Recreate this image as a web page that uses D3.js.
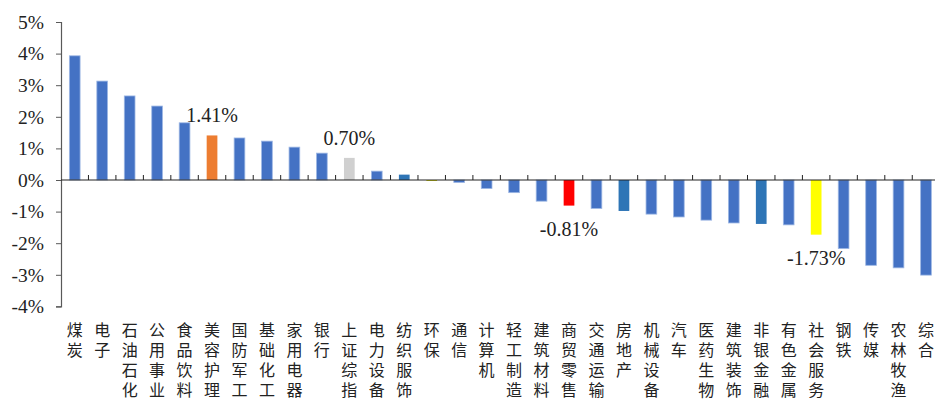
<!DOCTYPE html>
<html>
<head>
<meta charset="utf-8">
<script src="https://cdn.jsdelivr.net/npm/d3@7"></script>
<style>
  body { margin: 0; background: #fff; }
  svg { display: block; }
</style>
</head>
<body>
<script>
const categories = ['煤炭','电子','石油石化','公用事业','食品饮料','美容护理','国防军工','基础化工','家用电器','银行',
  '上证综指','电力设备','纺织服饰','环保','通信','计算机','轻工制造','建筑材料','商贸零售','交通运输',
  '房地产','机械设备','汽车','医药生物','建筑装饰','非银金融','有色金属','社会服务','钢铁','传媒','农林牧渔','综合'];
const values = [3.93, 3.13, 2.66, 2.34, 1.81, 1.41, 1.33, 1.23, 1.04, 0.85,
  0.70, 0.28, 0.17, -0.03, -0.08, -0.27, -0.40, -0.67, -0.81, -0.90,
  -0.98, -1.08, -1.17, -1.27, -1.36, -1.39, -1.42, -1.73, -2.17, -2.70, -2.78, -3.01];
const barColors = {
  '美容护理': '#ED7D31', '上证综指': '#D0D0D0', '商贸零售': '#FF0000', '社会服务': '#FFFF00',
  '环保': '#D4D400', '纺织服饰': '#2E75B6', '房地产': '#2E75B6', '非银金融': '#2E75B6'
};
const labelled = ['美容护理', '上证综指', '商贸零售', '社会服务'];
const yTicks = [5, 4, 3, 2, 1, 0, -1, -2, -3, -4];

const data = categories.map((c, i) => ({ name: c, value: values[i] }));

const width = 935, height = 399;
const x0 = 61, step = 27.46;

const svg = d3.select('body').append('svg').attr('width', width).attr('height', height);

const x = d3.scaleBand()
  .domain(data.map(d => d.name))
  .range([x0, x0 + data.length * step])
  .paddingInner(0.61)
  .paddingOuter(0.305);

const y = d3.scaleLinear().domain([-4, 5]).range([306.4, 22]);

// bars
svg.append('g').selectAll('rect')
  .data(data)
  .enter()
  .append('rect')
    .attr('x', d => x(d.name))
    .attr('width', x.bandwidth())
    .attr('y', d => y(Math.max(0, d.value)))
    .attr('height', d => Math.abs(y(d.value) - y(0)))
    .attr('fill', d => barColors[d.name] || '#4472C4')
    .attr('stroke', d => barColors[d.name] ? 'none' : '#9DB7E4')
    .attr('stroke-width', 0.8);

// y axis
const yAxis = d3.axisLeft(y).tickValues(yTicks).tickSize(5).tickFormat(d => d + '%');
const gy = svg.append('g').attr('transform', `translate(${x0},0)`).call(yAxis);
gy.select('.domain').attr('stroke', '#595959').attr('stroke-width', 1.2);
gy.selectAll('.tick line').attr('stroke', '#595959');
gy.selectAll('.tick text')
  .attr('x', -17)
  .attr('fill', '#222')
  .style('font-family', '"Liberation Serif", "Times New Roman", serif')
  .style('font-size', '19.5px');

// zero line with ticks at category boundaries
const gx = svg.append('g').attr('transform', `translate(0,${y(0)})`);
gx.append('line').attr('x1', x0).attr('x2', width).attr('stroke', '#222').attr('stroke-width', 1.2);
gx.selectAll('line.tk')
  .data(data.slice(1))
  .enter()
  .append('line')
    .attr('class', 'tk')
    .attr('x1', d => x(d.name) - x.step() * x.paddingInner() / 2)
    .attr('x2', d => x(d.name) - x.step() * x.paddingInner() / 2)
    .attr('y1', 0).attr('y2', -5)
    .attr('stroke', '#222');

// category labels, one character per line
const cat = svg.append('g');
data.forEach(d => {
  const cx = x(d.name) + x.bandwidth() / 2;
  const t = cat.append('text')
    .attr('x', cx)
    .attr('y', 336)
    .attr('text-anchor', 'middle')
    .attr('fill', '#222')
    .style('font-family', '"Noto Sans CJK SC", sans-serif')
    .style('font-size', '16px');
  d.name.split('').forEach((ch, i) => {
    t.append('tspan').attr('x', cx).attr('dy', i === 0 ? 0 : 20).text(ch);
  });
});

// value labels
svg.append('g').selectAll('text')
  .data(data.filter(d => labelled.includes(d.name)))
  .enter()
  .append('text')
    .attr('x', d => x(d.name) + x.bandwidth() / 2)
    .attr('y', d => d.value > 0 ? y(d.value) - 13 : y(d.value) + 30)
    .attr('text-anchor', 'middle')
    .attr('fill', '#222')
    .style('font-family', '"Liberation Serif", "Times New Roman", serif')
    .style('font-size', '20px')
    .text(d => d.value.toFixed(2) + '%');
</script>
</body>
</html>
